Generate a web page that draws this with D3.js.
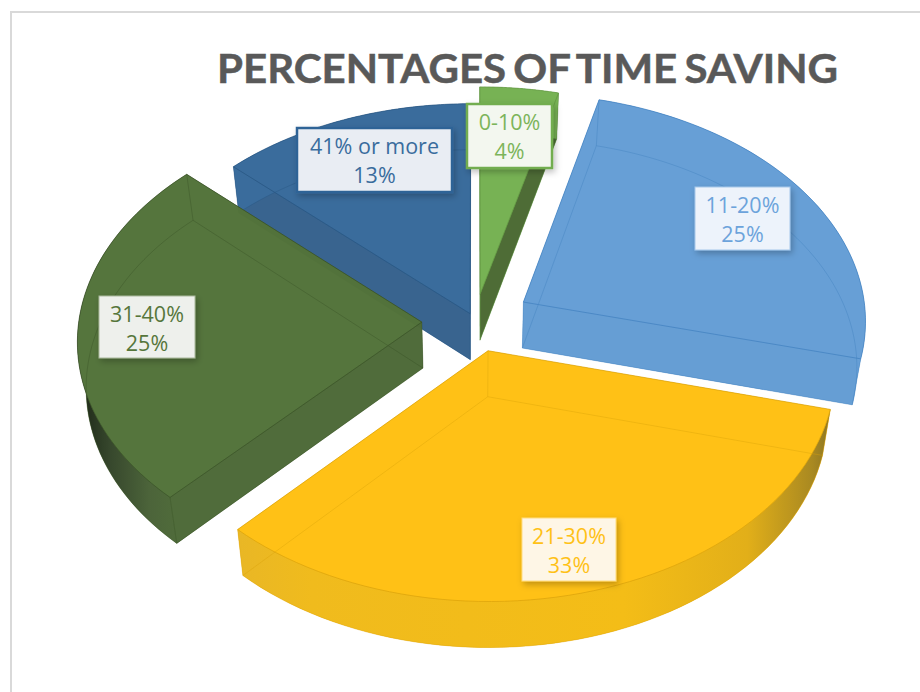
<!DOCTYPE html>
<html>
<head>
<meta charset="utf-8">
<script src="https://cdn.jsdelivr.net/npm/d3@7"></script>
<style>
  html, body { margin: 0; padding: 0; background: #fff; overflow: hidden; }
  svg { display: block; }
</style>
</head>
<body>
<svg width="920" height="692"></svg>
<script>
var titleText = "PERCENTAGES OF TIME SAVING";
var categories = ["0-10%", "11-20%", "21-30%", "31-40%", "41% or more"];
var values = [4, 25, 33, 25, 13];
var valueLabels = ["4%", "25%", "33%", "25%", "13%"];

// slice styling, same order as categories
var topColors = ["#75b152", "#659ed6", "#ffc113", "#53733a", "#376a9b"];
var sideColors = ["#4c6a33", "#649dd4", "#ffc113", "#4e6a38", "#36628e"];
var lineColors = ["#5f9440", "#3f7fbf", "#d9a008", "#364f24", "#24527f"];
var labelFills = ["#f3f7ef", "#edf3fb", "#fef6e6", "#eef0ec", "#e9edf3"];
var labelBorders = ["#72ad50", "#a5c7ea", "#ffdc80", "#a9b89c", "#2f6496"];
var labelStrokes = [2.5, 1, 1, 1, 2.5];
var labelTexts = ["#7cb45a", "#6ca3db", "#ffc116", "#56763b", "#396c9d"];
var explode = [0.12, 0.165, 0.135, 0.155, 0.035];
var labelBoxes = [[467, 104, 85, 64], [695, 187, 95, 63], [522, 518, 94, 63], [99, 296, 96, 62], [297, 128, 155, 64]];

var svg = d3.select("svg");

var cx = 475, cy = 321, rx = 343, ry = 227;
var perspective = 0.076, thickness = 46, bottomShrink = 0.978;

var x = d3.scaleLinear().domain([-1, 1]).range([cx - rx, cx + rx]);
var y = d3.scaleLinear().domain([-1, 1]).range([cy - ry, cy + ry]);

// disk coordinates to screen, nearer points get bigger
function project(u, v) {
  var w = 1 - perspective * v;
  return [x(u / w), y(v / w)];
}
function lower(p) {
  return [cx + (p[0] - cx) * bottomShrink, p[1] + thickness];
}

var line = d3.line();
var pie = d3.pie().sort(null).value(function(d) { return d; });
var arcs = pie(values);

var defs = svg.append("defs");

function gradient(id, x1, x2, stops) {
  var g = defs.append("linearGradient")
      .attr("id", id)
      .attr("gradientUnits", "userSpaceOnUse")
      .attr("x1", x1).attr("x2", x2).attr("y1", 0).attr("y2", 0);
  stops.forEach(function(s) {
    g.append("stop").attr("offset", s[0]).attr("stop-color", s[1]);
  });
}
gradient("sideYellow", 240, 830, [[0, "#e9b622"], [0.12, "#f0ba1a"], [0.65, "#f4bc14"], [0.86, "#e2ae16"], [0.97, "#a8881e"], [1, "#8c7420"]]);
gradient("sideGreen", 82, 178, [[0, "#1c2616"], [0.3, "#34462a"], [0.7, "#4a6237"], [1, "#4e6a38"]]);

var shadow = defs.append("filter")
    .attr("id", "labelShadow")
    .attr("x", "-20%").attr("y", "-20%").attr("width", "145%").attr("height", "150%");
shadow.append("feDropShadow")
    .attr("dx", 2).attr("dy", 3).attr("stdDeviation", 3)
    .attr("flood-color", "#000").attr("flood-opacity", 0.25);

// frame
svg.append("rect")
    .attr("x", 11).attr("y", 12)
    .attr("width", 940).attr("height", 720)
    .attr("fill", "#fff")
    .attr("stroke", "#d9d9d9")
    .attr("stroke-width", 2);

svg.append("text")
    .attr("x", 217)
    .attr("y", 83)
    .attr("textLength", 621)
    .attr("lengthAdjust", "spacingAndGlyphs")
    .style("font-family", "Lato, 'Open Sans', sans-serif")
    .style("font-weight", 700)
    .style("font-size", "41px")
    .style("word-spacing", "-3px")
    .attr("fill", "#595959")
    .attr("stroke", "#595959")
    .attr("stroke-width", 0.5)
    .text(titleText);

// back to front: navy, light green, blue, dark green, yellow
var drawOrder = [4, 0, 1, 3, 2];

drawOrder.forEach(function(i) {
  var a = arcs[i];
  var mid = (a.startAngle + a.endAngle) / 2;
  var u0 = Math.sin(mid) * explode[i];
  var v0 = -Math.cos(mid) * explode[i];

  var steps = d3.range(0, 61).map(function(k) {
    return a.startAngle + (a.endAngle - a.startAngle) * k / 60;
  });
  var rim = steps.map(function(t) {
    return project(u0 + Math.sin(t), v0 - Math.cos(t));
  });
  var apex = project(u0, v0);
  var rimLow = rim.map(lower);
  var apexLow = lower(apex);
  var first = rim[0], last = rim[rim.length - 1];
  var firstLow = rimLow[0], lastLow = rimLow[rimLow.length - 1];

  var outerFill = topColors[i];
  if (i === 2) outerFill = "url(#sideYellow)";
  if (i === 3) outerFill = "url(#sideGreen)";

  var g = svg.append("g").attr("class", "slice").attr("opacity", 0.985);

  g.append("path")
      .attr("fill", topColors[i])
      .attr("d", line([apexLow].concat(rimLow)) + "Z");
  g.append("path")
      .attr("fill", sideColors[i])
      .attr("d", line([apex, first, firstLow, apexLow]) + "Z");
  g.append("path")
      .attr("fill", sideColors[i])
      .attr("d", line([apex, last, lastLow, apexLow]) + "Z");
  g.append("path")
      .attr("fill", outerFill)
      .attr("d", line(rim.concat(rimLow.slice().reverse())) + "Z");
  g.append("path")
      .attr("fill", topColors[i])
      .attr("d", line([apex].concat(rim)) + "Z");

  // thin edges, the body is see-through in the original
  g.append("path")
      .attr("fill", "none")
      .attr("stroke", lineColors[i])
      .attr("stroke-opacity", 0.4)
      .attr("d", line([apexLow].concat(rimLow)) + "Z");
  g.append("path")
      .attr("fill", "none")
      .attr("stroke", lineColors[i])
      .attr("stroke-opacity", 0.4)
      .attr("d", line([first, firstLow]) + line([last, lastLow]) + line([apex, apexLow]));
  g.append("path")
      .attr("fill", "none")
      .attr("stroke", lineColors[i])
      .attr("stroke-opacity", 0.7)
      .attr("d", line([apex].concat(rim)) + "Z");
});

categories.forEach(function(name, i) {
  var b = labelBoxes[i];
  var g = svg.append("g").attr("class", "label");
  g.append("rect")
      .attr("x", b[0]).attr("y", b[1])
      .attr("width", b[2]).attr("height", b[3])
      .attr("fill", labelFills[i])
      .attr("stroke", labelBorders[i])
      .attr("stroke-width", labelStrokes[i])
      .attr("filter", "url(#labelShadow)");
  [name, valueLabels[i]].forEach(function(t, j) {
    g.append("text")
        .attr("x", b[0] + b[2] / 2)
        .attr("y", b[1] + 26 + j * 29)
        .attr("text-anchor", "middle")
        .style("font-family", "'Open Sans', sans-serif")
        .style("font-size", "21.5px")
        .attr("fill", labelTexts[i])
        .text(t);
  });
});
</script>
</body>
</html>
